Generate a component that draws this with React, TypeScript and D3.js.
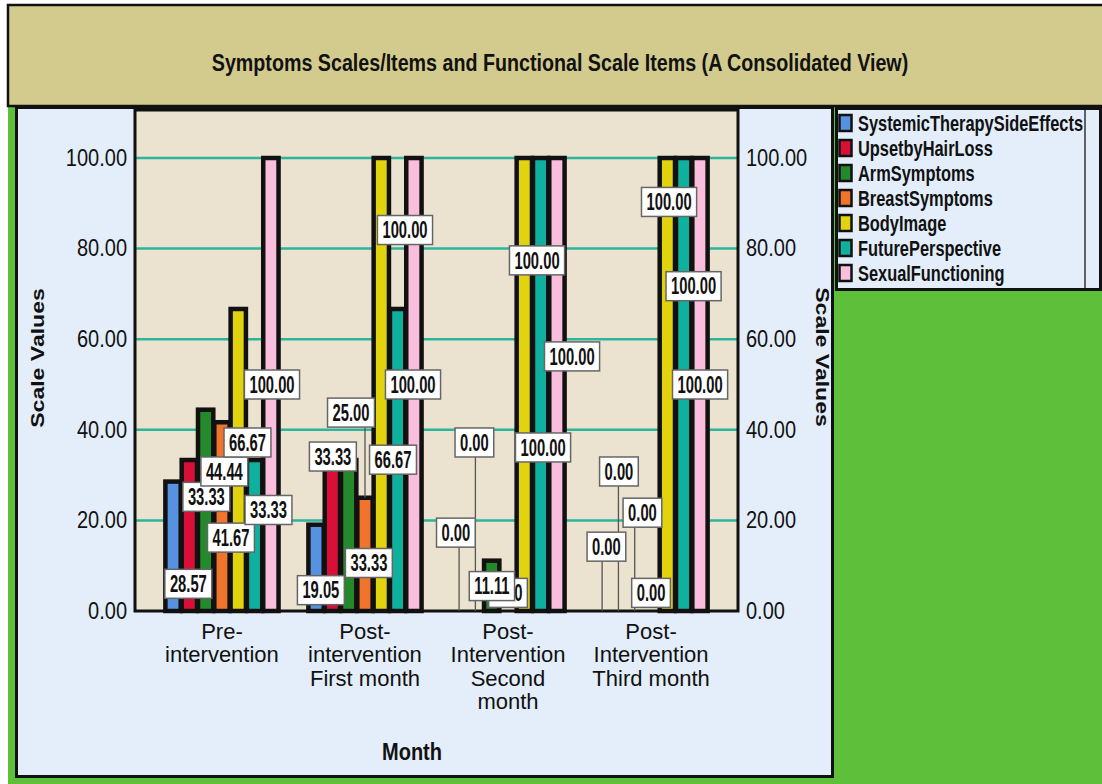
import { useEffect, useRef } from 'react';
import * as d3 from 'd3';

const months = [
  'Pre-intervention',
  'Post-intervention First month',
  'Post-Intervention Second month',
  'Post-Intervention Third month'
];
const monthLines = [
  ['Pre-', 'intervention'],
  ['Post-', 'intervention', 'First month'],
  ['Post-', 'Intervention', 'Second', 'month'],
  ['Post-', 'Intervention', 'Third month']
];

const series = [
  'SystemicTherapySideEffects',
  'UpsetbyHairLoss',
  'ArmSymptoms',
  'BreastSymptoms',
  'BodyImage',
  'FuturePerspective',
  'SexualFunctioning'
];
const seriesColors = ['#5692e0', '#d81038', '#23892b', '#f1742c', '#e2d30f', '#10b09e', '#f8bedb'];

// one value per month, in the order of `months`
const systemicTherapySideEffects = [28.57, 19.05, 0.0, 0.0];
const upsetbyHairLoss = [33.33, 33.33, 0.0, 0.0];
const armSymptoms = [44.44, 33.33, 11.11, 0.0];
const breastSymptoms = [41.67, 25.0, 0.0, 0.0];
const bodyImage = [66.67, 100.0, 100.0, 100.0];
const futurePerspective = [33.33, 66.67, 100.0, 100.0];
const sexualFunctioning = [100.0, 100.0, 100.0, 100.0];
const seriesValues = [
  systemicTherapySideEffects, upsetbyHairLoss, armSymptoms, breastSymptoms,
  bodyImage, futurePerspective, sexualFunctioning
];

const yTicks = [0, 20, 40, 60, 80, 100];

// where SPSS parked each value box: sideways shift (px) from the bar centre,
// and the height (in scale units) of the box centre
const labelShift = [
  [15.3, 4.8, -3.2, 4.3],
  [17, 0.5, -1, 0.5],
  [18.7, 20.2, 0.2, 7.7],
  [9, -14, 0, 0],
  [9.2, 23.7, 12.7, 1.7],
  [13.9, -4.6, 2.4, 9.9],
  [1.1, -0.9, 15.1, 0.1]
];
const labelAt = [
  [6.0, 4.6, 17.3, 14.2],
  [25.2, 34.1, 37.2, 30.8],
  [30.8, 10.6, 5.5, 21.7],
  [16.2, 43.8, 4.0, 4.0],
  [37.2, 84.1, 77.4, 90.3],
  [22.3, 33.4, 36.1, 71.7],
  [50, 50, 56.2, 50]
];

const SANS = "'Liberation Sans', Arial, Helvetica, sans-serif";
// no Arial Narrow here, so narrow text is Liberation Sans squeezed sideways
const NARROW_X = 0.82;
const GREEN = '#5ec03a';
const TAN = '#d3ca8e';
const PANEL = '#e3eefa';
const PLOT_BG = '#ebe3cf';
const GRID = '#2db49c';

export default function App() {
  const svgRef = useRef<SVGSVGElement | null>(null);
  const width = 1102;
  const height = 784;

  useEffect(() => {
    const svg = d3.select(svgRef.current);
    svg.selectAll('*').remove();

    const label = (parent: any, x: number, y: number, txt: string, opts: any = {}) => {
      const sx = opts.sx ?? 1;
      const sy = opts.sy ?? 1.15;
      const rot = opts.rotate ? ` rotate(${opts.rotate})` : '';
      return parent.append('text')
        .attr('transform', `translate(${x},${y}) scale(${sx},${sy})${rot}`)
        .attr('text-anchor', opts.anchor ?? 'middle')
        .attr('dy', '0.35em')
        .attr('fill', opts.fill ?? '#111')
        .style('font-family', SANS)
        .style('font-size', `${opts.size ?? 20}px`)
        .style('font-weight', opts.weight ?? 'normal')
        .text(txt);
    };

    svg.append('rect').attr('width', width).attr('height', height).attr('fill', '#fff');
    svg.append('rect')
      .attr('x', 8).attr('y', 106)
      .attr('width', width - 8).attr('height', height - 106)
      .attr('fill', GREEN);

    // title band
    svg.append('rect')
      .attr('x', 8).attr('y', 5)
      .attr('width', width).attr('height', 101)
      .attr('fill', TAN)
      .attr('stroke', '#111')
      .attr('stroke-width', 2.5);
    label(svg, 560, 62, 'Symptoms Scales/Items and Functional Scale Items (A Consolidated View)', {
      size: 24, weight: 'bold', sx: NARROW_X, sy: 1.02
    });

    // chart panel
    svg.append('rect')
      .attr('x', 16.5).attr('y', 107.5)
      .attr('width', 816).attr('height', 669)
      .attr('fill', PANEL)
      .attr('stroke', '#111')
      .attr('stroke-width', 3);

    // legend panel
    svg.append('rect')
      .attr('x', 836.5).attr('y', 108.5)
      .attr('width', 264).attr('height', 181)
      .attr('fill', PANEL)
      .attr('stroke', '#111')
      .attr('stroke-width', 3);
    svg.append('line')
      .attr('x1', 1085).attr('x2', 1085)
      .attr('y1', 110).attr('y2', 288)
      .attr('stroke', '#333')
      .attr('stroke-width', 1.5);

    series.forEach((s, i) => {
      const cy = 123 + i * 25;
      svg.append('rect')
        .attr('x', 839.5).attr('y', cy - 8)
        .attr('width', 12).attr('height', 16)
        .attr('fill', seriesColors[i])
        .attr('stroke', '#111')
        .attr('stroke-width', 2.5);
      label(svg, 858, cy, s, { size: 20, weight: 'bold', anchor: 'start', sx: NARROW_X, sy: 1.1 });
    });

    // plot
    const plotLeft = 135;
    const plotRight = 738;
    const plotTop = 110;

    const y = d3.scaleLinear().domain([0, 100]).range([611, 158]);
    const x0 = d3.scaleBand<string>()
      .domain(months)
      .range([plotLeft, plotRight])
      .paddingInner(0)
      .paddingOuter(0.108);
    const x1 = d3.scaleBand<string>()
      .domain(series)
      .range([0, x0.bandwidth()])
      .paddingInner(0)
      .paddingOuter(0.885);

    svg.append('rect')
      .attr('x', plotLeft).attr('y', plotTop)
      .attr('width', plotRight - plotLeft).attr('height', y(0) - plotTop)
      .attr('fill', PLOT_BG);

    svg.append('g')
      .selectAll('line')
      .data(yTicks.filter(t => t > 0))
      .join('line')
      .attr('x1', plotLeft).attr('x2', plotRight)
      .attr('y1', d => y(d)).attr('y2', d => y(d))
      .attr('stroke', GRID)
      .attr('stroke-width', 2.5);

    const table = months.flatMap((m, mi) => series.map((s, si) => ({
      month: m,
      series: s,
      si,
      value: seriesValues[si][mi],
      dx: labelShift[si][mi],
      at: labelAt[si][mi]
    })));

    const barX = (d: any) => (x0(d.month) ?? 0) + (x1(d.series) ?? 0);
    const barMid = (d: any) => barX(d) + x1.bandwidth() / 2;

    svg.append('g')
      .selectAll('rect')
      .data(table.filter(d => d.value > 0))
      .join('rect')
      .attr('x', d => barX(d) + 0.5)
      .attr('width', x1.step() - 1)
      .attr('y', d => y(d.value))
      .attr('height', d => y(0) - y(d.value))
      .attr('fill', d => seriesColors[d.si])
      .attr('stroke', '#111')
      .attr('stroke-width', 4.5);

    // plot frame
    svg.append('rect')
      .attr('x', plotLeft).attr('y', plotTop)
      .attr('width', plotRight - plotLeft).attr('height', y(0) - plotTop)
      .attr('fill', 'none')
      .attr('stroke', '#111')
      .attr('stroke-width', 3);

    // value boxes: leader lines first, then the boxes, upper ones on top
    const fmt = d3.format('.2f');
    const boxH = 29;
    svg.append('g')
      .selectAll('line')
      .data(table.filter(d => d.at - d.value > 5))
      .join('line')
      .attr('x1', d => barMid(d)).attr('x2', d => barMid(d))
      .attr('y1', d => y(d.at)).attr('y2', d => y(d.value))
      .attr('stroke', '#555')
      .attr('stroke-width', 1.3);

    const boxes = svg.append('g');
    [...table].sort((a, b) => a.at - b.at).forEach(d => {
      const g = boxes.append('g').attr('transform', `translate(${barMid(d) + d.dx},${y(d.at)})`);
      const r = g.append('rect');
      const t = label(g, 0, 0, fmt(d.value), { size: 18, weight: 'bold', sx: NARROW_X, sy: 1.3 });
      const w = (t.node() as SVGTextElement).getComputedTextLength() * NARROW_X + 10;
      r.attr('x', -w / 2).attr('y', -boxH / 2)
        .attr('width', w).attr('height', boxH)
        .attr('fill', '#fff')
        .attr('stroke', '#666')
        .attr('stroke-width', 1.5);
    });

    // axes
    const yLeft = svg.append('g')
      .attr('transform', `translate(${plotLeft},0)`)
      .call(d3.axisLeft(y).tickValues(yTicks).tickFormat(d3.format('.2f')).tickSize(0).tickPadding(8));
    const yRight = svg.append('g')
      .attr('transform', `translate(${plotRight},0)`)
      .call(d3.axisRight(y).tickValues(yTicks).tickFormat(d3.format('.2f')).tickSize(0).tickPadding(8));
    [yLeft, yRight].forEach(ax => {
      ax.select('.domain').remove();
      ax.selectAll('text')
        .attr('fill', '#111')
        .attr('transform', 'scale(1,1.15)')
        .style('font-family', SANS)
        .style('font-size', '20px');
    });

    label(svg, 38, 358, 'Scale Values', { size: 18, weight: 'bold', sy: 1.28, rotate: -90 });
    label(svg, 822, 357, 'Scale Values', { size: 18, weight: 'bold', sy: 1.28, rotate: 90 });

    months.forEach((m, mi) => {
      const cx = (x0(m) ?? 0) + x0.bandwidth() / 2;
      monthLines[mi].forEach((line, li) => {
        label(svg, cx, 631 + li * 23.5, line, { size: 22, sy: 1.0 });
      });
    });
    label(svg, 412, 752, 'Month', { size: 20, weight: 'bold', sy: 1.15 });
  }, []);

  return (
    <svg
      ref={svgRef}
      width={width}
      height={height}
      style={{ position: 'absolute', left: 0, top: 0, display: 'block' }}
    />
  );
}
